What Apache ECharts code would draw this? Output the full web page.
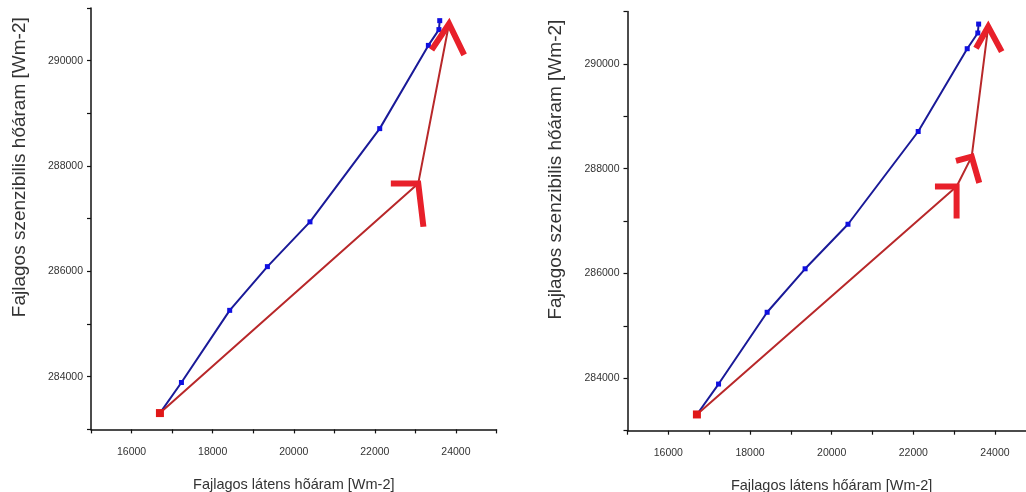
<!DOCTYPE html>
<html>
<head>
<meta charset="utf-8">
<script src="https://cdn.jsdelivr.net/npm/echarts@6/dist/echarts.min.js"></script>
<style>html,body{margin:0;padding:0;background:#fff}#c{width:1026px;height:492px}</style>
</head>
<body>
<div id="c"></div>
<script>
// x: Fajlagos látens hőáram, y: Fajlagos szenzibilis hőáram
const blueX = [16700, 17230, 18420, 19350, 20400, 22120, 23320, 23580, 23600];
const blueY = [283310, 283890, 285260, 286090, 286940, 288710, 290290, 290590, 290760];
const redLeftX = [16700, 23070, 23830];
const redLeftY = [283310, 287670, 290700];
const redRightX = [16700, 23060, 23430, 23835];
const redRightY = [283310, 287660, 288230, 290710];
// hand-drawn arrowheads: [arm end, tip, arm end]
const arrowsLeft = [
  [[22394, 287670], [23070, 287670], [23198, 286847]],
  [[23400, 290204], [23830, 290700], [24202, 290110]]
];
const arrowsRight = [
  [[22530, 287660], [23060, 287660], [23060, 287050]],
  [[23045, 288150], [23430, 288230], [23615, 287730]],
  [[23535, 290300], [23835, 290710], [24165, 290235]]
];
const xTitleLeft = 'Fajlagos látens hõáram [Wm-2]';
const xTitleRight = 'Fajlagos látens hőáram [Wm-2]';
const yTitle = 'Fajlagos szenzibilis hőáram [Wm-2]';

const FONT = 'Liberation Sans, Arial, sans-serif';
function xAxis(idx, name) {
  return {
    type: 'value', gridIndex: idx, min: 15000, max: 25000, interval: 1000,
    name: name, nameLocation: 'middle', nameGap: 48,
    nameTextStyle: {fontFamily: FONT, fontSize: 14.5, color: '#333'},
    axisLine: {onZero: false, lineStyle: {color: '#111', width: 1.5}},
    axisTick: {inside: false, length: 4, lineStyle: {color: '#111', width: 1.2}},
    axisLabel: {margin: 17, fontFamily: FONT, fontSize: 10.5, color: '#333',
      formatter: v => (v % 2000 === 0 && v > 15000 && v < 25000) ? String(v) : ''},
    splitLine: {show: false}
  };
}
function yAxis(idx) {
  return {
    type: 'value', gridIndex: idx, min: 283000, max: 291000, interval: 1000,
    name: yTitle, nameLocation: 'middle', nameGap: 62, nameRotate: 90,
    nameTextStyle: {fontFamily: FONT, fontSize: 19, color: '#333', padding: [0, 0, 0, 103]},
    axisLine: {onZero: false, lineStyle: {color: '#111', width: 1.5}},
    axisTick: {inside: false, length: 4, lineStyle: {color: '#111', width: 1.2}},
    axisLabel: {margin: 8, fontFamily: FONT, fontSize: 10.5, color: '#333',
      formatter: v => (v % 2000 === 0 && v > 283000 && v < 291000) ? String(v) : ''},
    splitLine: {show: false}
  };
}
function zip(xs, ys) { return xs.map((x, i) => [x, ys[i]]); }
function seriesFor(idx, rx, ry, arrows) {
  const s = [];
  s.push({
    type: 'line', xAxisIndex: idx, yAxisIndex: idx, data: zip(blueX, blueY),
    symbol: 'rect', symbolSize: 5, showSymbol: true,
    lineStyle: {color: '#1a1a98', width: 2}, itemStyle: {color: '#1010e0'},
    z: 3, animation: false, silent: true
  });
  const red = zip(rx, ry).map((p, i) => i === 0 ? {value: p, symbol: 'rect', symbolSize: 8} : {value: p, symbol: 'none'});
  s.push({
    type: 'line', xAxisIndex: idx, yAxisIndex: idx, data: red, showSymbol: true,
    lineStyle: {color: '#b8282a', width: 2}, itemStyle: {color: '#e01818'},
    z: 4, animation: false, silent: true
  });
  arrows.forEach(a => s.push({
    type: 'line', xAxisIndex: idx, yAxisIndex: idx, data: a, symbol: 'none',
    lineStyle: {color: '#e8202a', width: 6, cap: 'butt', join: 'miter'},
    z: 5, animation: false, silent: true
  }));
  return s;
}
const chart = echarts.init(document.getElementById('c'));
chart.setOption({
  backgroundColor: '#fff',
  animation: false,
  grid: [
    {left: 91, top: 8, right: 529.5, bottom: 62.6, containLabel: false, outerBoundsMode: 'none'},
    {left: 627.5, top: 11.5, right: -9.8, bottom: 61.3, containLabel: false, outerBoundsMode: 'none'}
  ],
  xAxis: [xAxis(0, xTitleLeft), xAxis(1, xTitleRight)],
  yAxis: [yAxis(0), yAxis(1)],
  series: [].concat(seriesFor(0, redLeftX, redLeftY, arrowsLeft), seriesFor(1, redRightX, redRightY, arrowsRight))
});
</script>
</body>
</html>
